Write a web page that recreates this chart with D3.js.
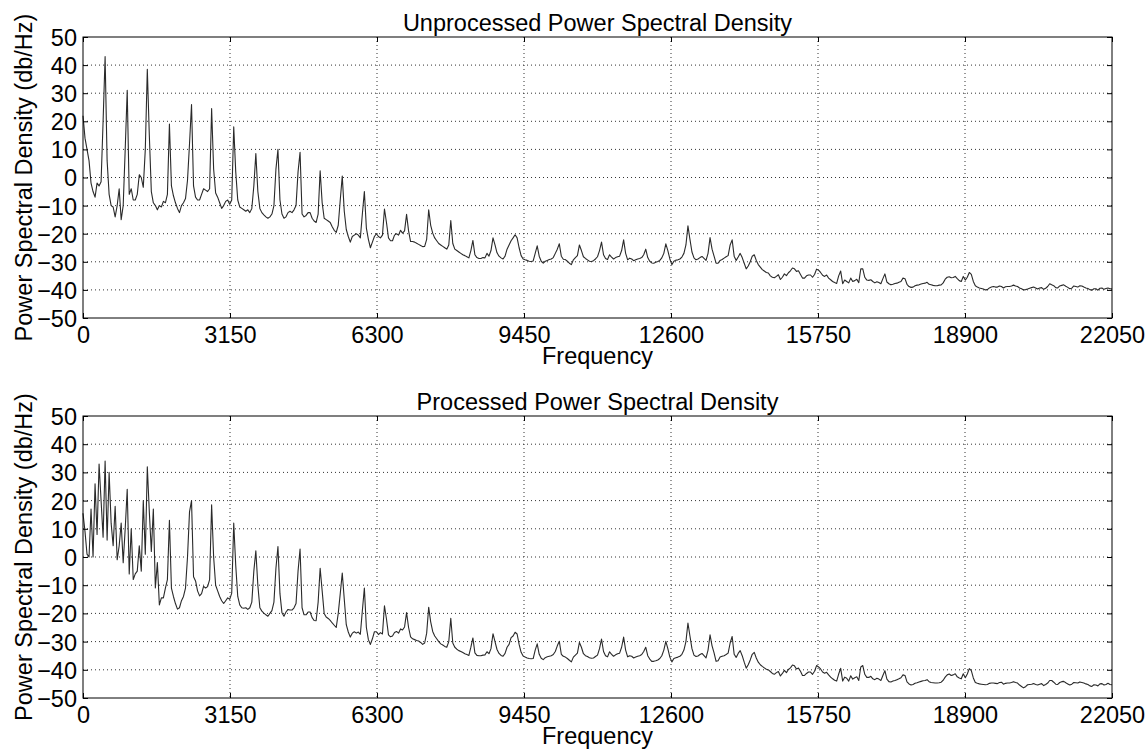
<!DOCTYPE html>
<html lang="en">
<head>
<meta charset="UTF-8">
<title>Power Spectral Density</title>
<script src="https://d3js.org/d3.v7.min.js"></script>
<style>
    body {
        margin: 0;
        background: #fff;
    }
    svg text {
        font-family: "Liberation Sans", Arial, sans-serif;
        fill: #000;
    }
    .grid line {
        stroke: #333;
        stroke-width: 1;
        stroke-dasharray: 1,3;
    }
    .trace {
        fill: none;
        stroke: #2a2a2a;
        stroke-width: 1.1;
        stroke-linejoin: round;
    }
</style>
</head>
<body>
<svg id="chart" width="1147" height="750"></svg>
<script>
// spectrum: 513 bins from 0 to Nyquist
const nyquist = 22050;
const binHz = nyquist / 512;

const freqTicks = [0, 3150, 6300, 9450, 12600, 15750, 18900, 22050];
const dbTicks = [-50, -40, -30, -20, -10, 0, 10, 20, 30, 40, 50];

const unprocessedDb = [
    22, 14, 10, 6, -2, -5, -7, -2, -3, -1.5, 20, 43, 6, -6, -10, -10.5,
    -14, -10, -4, -15, -10, 10, 31, -6, -4, -8, -8, -6, 1, 0, -3.5, 10,
    38.5, 15, -5, -9, -10, -11.5, -10, -10.5, -8.5, -9, -6, 19, -3, -6.5, -9, -11,
    -12.5, -10, -9, -7.5, -1, 12, 26, -3, -7, -8, -8, -6, -4, -4.5, -5, -4,
    24.5, 3, -5.5, -7, -9, -11, -10, -8.5, -8, -9.5, -8, 18, 2, -8, -10.5, -11,
    -11.5, -12, -11.5, -12.5, -11, -3, 8.5, -5, -11, -12.5, -13.3, -14, -14.5, -14, -13, -10,
    3, 10, -8, -13, -14.5, -14, -12.5, -12, -12.5, -11.5, -10, 2, 9, -13, -14, -13.5,
    -12.5, -12.5, -14.5, -15.5, -16, -13, 2.4, -9, -14.5, -15, -15.5, -16, -17.5, -18.8, -19.5, -17,
    -8, 0.5, -12, -18.5, -21, -23, -21, -20.5, -20, -20.5, -21.5, -13, -5, -18, -22, -25,
    -23, -21, -20, -21, -21.5, -20.5, -11.2, -16, -21.5, -22.5, -22.5, -20.5, -20, -20.5, -18.8, -19.8,
    -19, -13.1, -19, -22.8, -22.8, -23, -23.4, -23.8, -24.2, -24.6, -24.5, -22, -11.5, -17, -19.8, -21.5,
    -22.5, -23.5, -24, -24.5, -25, -25.5, -24, -15.3, -23.5, -25.5, -26, -26.5, -27, -27.5, -27.8, -28.2,
    -28.6, -26, -22.4, -27.5, -28.5, -28.8, -28.8, -28.5, -28.6, -27, -28, -26, -21.5, -24, -26.8, -28,
    -28.6, -29, -28, -25.5, -24, -22.5, -21.5, -20.4, -21.5, -25, -27.8, -29, -29.3, -29.5, -29.8, -29.9,
    -29.7, -27, -24.3, -28, -29.8, -30.5, -29.8, -29.5, -29.2, -29, -28.5, -27, -25.5, -23.6, -28, -29.1,
    -29.2, -29.8, -30.5, -31, -29.3, -28.5, -27.8, -24, -26, -28.2, -28.8, -29.3, -29.8, -29.9, -29.6, -29,
    -28.2, -26, -23, -27.5, -28.8, -29.2, -27.5, -28.3, -29, -28.5, -28.2, -28, -26, -22.2, -27, -29.3,
    -28.7, -29, -29.6, -29.3, -29, -28.8, -28.5, -27.5, -25.5, -28.5, -29.8, -30.4, -30.5, -30.2, -29.9, -29.5,
    -28.6, -27, -23.6, -26, -29, -31, -29.8, -29.4, -29.3, -29, -28.3, -27, -24, -17.2, -22, -26.5,
    -28.6, -29.3, -29, -28.5, -28.1, -28.8, -29.5, -27, -21.4, -25.5, -28, -30.5, -30.5, -29.5, -29.2, -28.7,
    -28.2, -27.8, -24, -22.2, -28, -29.5, -28.3, -27, -28.5, -30.5, -32.5, -31.5, -30, -28, -27.5, -29.5,
    -31, -31.9, -32.8, -33.3, -33.8, -34, -35, -35.5, -35.7, -35.2, -34.6, -36.3, -35.5, -34.3, -34.9, -33.9,
    -33.2, -32.2, -32.5, -33.4, -33.2, -34.5, -35.8, -35.8, -35, -34.7, -34.7, -35.5, -34.5, -32.6, -33, -33.8,
    -34.8, -35.2, -34.7, -35.8, -36.4, -37, -37.4, -37.7, -35, -33.3, -37.8, -36.5, -37, -37.5, -35.8, -37,
    -36.7, -36.2, -37.4, -32.5, -32.5, -35.5, -36.5, -36.6, -36.4, -37, -37.5, -37.1, -37.4, -37.8, -36, -34.3,
    -37.2, -37.8, -38.2, -38, -37.7, -37.6, -37.3, -37, -35.8, -36, -38, -38.8, -39.1, -39, -38.5, -38.3,
    -38.2, -37.9, -37.7, -37.6, -37.3, -38, -38.2, -38.4, -38.5, -38.5, -38.3, -38.2, -37.5, -36.2, -35.5, -35.3,
    -35.7, -35.6, -35.2, -36, -36.7, -37, -35.2, -36.5, -35.5, -33.8, -34.5, -37, -38.5, -39, -39.3, -39.5,
    -39.7, -40, -39.9, -39.3, -39, -38.8, -39, -39, -38.6, -38.8, -39.3, -38.9, -38.8, -38.8, -38.6, -38.3,
    -38.6, -38.8, -39.3, -39.6, -40, -39.9, -39.7, -39.4, -39.2, -39, -39.3, -39.7, -39.3, -39.2, -39.8, -39.4,
    -38.8, -37.8, -38.2, -38.5, -39.2, -39.3, -38.6, -38.4, -38.2, -38.7, -39.1, -39.6, -39.4, -38.6, -38.8, -39,
    -38.5, -38.6, -39, -39.3, -39.5, -39.9, -40.1, -39.6, -39.6, -40.1, -39.4, -39.3, -39.8, -39.5, -39.3, -39.6,
    -39.6
];

const processedDb = [
    15.5, 9, 1, 0, 17, 0, 26, 8, 33, 20, 7, 34, 6, 30, 12, 4,
    18, -1, 4, 12, -2, 10, 24, -6, 10, -8, -6, -5, 4, -5, 20, 1,
    32, 16, 2, 17, -11, -2, -17, -14.5, -14.5, -11, -8, 13, -11, -14, -16.5, -18.5,
    -18, -15.5, -14, -11, 0, 16, 20, -7, -8.5, -12, -13.8, -13, -10.4, -11, -10.5, -8,
    18.5, 0, -10, -12, -14, -15.5, -16.5, -15.5, -14.5, -15, -12.8, 12, -3, -14, -17, -18,
    -18.2, -18, -18.6, -18, -16, -5, 2.2, -10, -18, -19.2, -19.9, -20.5, -21, -20, -19, -16,
    -4, 3.7, -13, -19.8, -21, -19.5, -18.6, -18.8, -18.8, -18, -16.5, -5, 2.8, -18, -20.5, -20.5,
    -19.5, -19.5, -21.5, -22.5, -22.6, -16, -4, -12, -20, -21.3, -21.8, -22.5, -23.4, -24.2, -25, -20,
    -13, -5.7, -15, -24, -26.6, -28.4, -27, -26.5, -27, -26.6, -27.4, -19, -11, -25, -29.3, -31,
    -29, -26.5, -26.5, -27.5, -26.8, -27.3, -17.3, -22, -27.6, -28.3, -28, -26.8, -26.4, -27, -25.5, -25.9,
    -24.8, -19.7, -25, -28.3, -29, -29.3, -29.6, -29.8, -30.3, -31, -30.5, -27, -17.8, -23, -26.4, -28,
    -29, -30, -30.8, -31.2, -31.7, -32, -30, -21.7, -30.5, -32, -32.7, -33.2, -33.5, -33.9, -34.3, -34.6,
    -34.9, -32, -28.7, -34, -34.9, -35, -35, -34.8, -34.7, -33.6, -34.3, -32.5, -27.2, -30, -32.8, -34.2,
    -34.9, -35.2, -34.2, -32, -31, -28.6, -28, -26.7, -27.3, -31, -33.8, -35.1, -35.5, -35.8, -36, -36.1,
    -36, -33, -30.8, -34.5, -35.9, -36.4, -35.7, -35.4, -35.2, -35, -34.6, -33.5, -31.5, -29.9, -34.5, -35.2,
    -35.5, -36, -36.6, -37.2, -35.5, -34.8, -34.1, -30.3, -32, -34.3, -35, -35.3, -35.7, -35.9, -35.8, -35.3,
    -34.8, -32.5, -29.1, -33.5, -35, -35.4, -33.6, -34.5, -35.2, -34.7, -34.3, -34.1, -32, -28.4, -33, -35.4,
    -35, -35.2, -35.8, -35.5, -35.2, -35, -34.6, -33.5, -32, -35, -36.2, -37, -37, -36.8, -36.5, -36,
    -35, -33, -29.9, -32.5, -35.5, -37.2, -36, -35.7, -35.5, -35.2, -34.5, -33, -30, -23.4, -28, -32.5,
    -34.8, -35.3, -35.1, -34.6, -34.2, -35, -35.8, -33, -27.6, -31.5, -34, -37, -36.8, -35.5, -35.2, -35,
    -34.6, -34.1, -30.5, -28.2, -34.5, -35.6, -34.2, -33.2, -35, -37.3, -39.4, -38.2, -36.5, -34.5, -33.8, -35.8,
    -37.3, -38.2, -38.8, -39.3, -39.8, -40, -40.6, -41.3, -41.6, -41, -40.6, -42.2, -41.3, -40.2, -41, -39.9,
    -39.3, -38.3, -38.6, -39.7, -39.4, -40.5, -42, -42, -41.3, -40.8, -40.8, -41.6, -40.5, -38.5, -39, -39.7,
    -40.8, -41.2, -40.9, -41.8, -42.6, -43.2, -43.7, -44, -41.5, -39.5, -44, -42.6, -43, -44, -42.1, -43.3,
    -42.8, -42.5, -43.8, -39, -38.5, -41.6, -42.7, -42.7, -42.3, -43.2, -43.5, -43, -43.3, -43.8, -42, -40.3,
    -43.3, -44.2, -44.3, -44, -43.8, -43.5, -43.2, -42.8, -41.8, -42, -44.3, -45, -45.4, -45.2, -44.8, -44.6,
    -44.3, -44.1, -43.9, -43.8, -43.5, -44.2, -44.5, -44.6, -44.7, -44.7, -44.6, -44.4, -43.7, -42.6, -41.8, -41.5,
    -42, -41.8, -41.4, -42.5, -42.9, -43.2, -41.4, -42.8, -41.5, -39.6, -40.3, -42.9, -44.5, -44.8, -45, -45.1,
    -45.2, -45.3, -45.2, -44.8, -44.7, -44.7, -44.8, -44.9, -44.5, -44.4, -45.1, -44.8, -44.7, -44.7, -44.5, -44.2,
    -44.5, -44.7, -45.4, -45.9, -46.4, -46, -45.3, -45.2, -45.1, -44.9, -45.2, -45.4, -45.1, -44.9, -45.6, -45.2,
    -44.7, -43.8, -43.8, -44.4, -45.1, -45.2, -44.5, -44.2, -44.1, -44.6, -45, -45.4, -45.1, -44.5, -44.6, -44.7,
    -44.3, -44.5, -44.7, -45, -45.2, -45.7, -45.9, -45.3, -45.4, -45.7, -45, -44.9, -45.4, -45.2, -44.8, -45.2,
    -45.3
];

const panels = [
    { title: "Unprocessed Power Spectral Density", values: unprocessedDb, top: 37, bottom: 318 },
    { title: "Processed Power Spectral Density", values: processedDb, top: 416, bottom: 698 }
];

const svg = d3.select("#chart");
const left = 83, right = 1112;
const fontSize = 23.5;
const tickLen = 5;

const x = d3.scaleLinear().domain([0, nyquist]).range([left, right]);

panels.forEach(p => {
    const y = d3.scaleLinear().domain([-50, 50]).range([p.bottom, p.top]);
    const g = svg.append("g");

    // dotted grid
    const grid = g.append("g").attr("class", "grid");
    grid.selectAll("line.v")
        .data(freqTicks.slice(1, -1))
        .enter().append("line")
        .attr("x1", d => x(d)).attr("x2", d => x(d))
        .attr("y1", p.top).attr("y2", p.bottom);
    grid.selectAll("line.h")
        .data(dbTicks.slice(1, -1))
        .enter().append("line")
        .attr("x1", left).attr("x2", right)
        .attr("y1", d => y(d)).attr("y2", d => y(d));

    // spectrum trace
    const line = d3.line()
        .x((d, i) => x(i * binHz))
        .y(d => y(d));
    g.append("path")
        .datum(p.values)
        .attr("class", "trace")
        .attr("d", line);

    // axes, ticks pointing inward on all four sides
    const bottomAxis = g.append("g")
        .attr("transform", `translate(0,${p.bottom})`)
        .call(d3.axisBottom(x).tickValues(freqTicks).tickSize(-tickLen).tickPadding(8).tickFormat(d3.format("d")));
    const leftAxis = g.append("g")
        .attr("transform", `translate(${left},0)`)
        .call(d3.axisLeft(y).tickValues(dbTicks).tickSize(-tickLen).tickPadding(6).tickFormat(d3.format("d")));
    g.append("g")
        .attr("transform", `translate(0,${p.top})`)
        .call(d3.axisTop(x).tickValues(freqTicks).tickSize(-tickLen).tickFormat(""));
    g.append("g")
        .attr("transform", `translate(${right},0)`)
        .call(d3.axisRight(y).tickValues(dbTicks).tickSize(-tickLen).tickFormat(""));

    g.selectAll(".domain").remove();
    g.selectAll(".tick line").attr("stroke", "#000");
    g.selectAll(".tick text")
        .style("font-size", fontSize + "px")
        .style("font-family", "'Liberation Sans', Arial, sans-serif");
    leftAxis.selectAll(".tick text").attr("dy", "0.36em");

    // box
    g.append("rect")
        .attr("x", left).attr("y", p.top)
        .attr("width", right - left).attr("height", p.bottom - p.top)
        .attr("fill", "none").attr("stroke", "#000").attr("stroke-width", 1);

    // title and labels
    g.append("text")
        .attr("x", (left + right) / 2).attr("y", p.top - 6)
        .attr("text-anchor", "middle")
        .style("font-size", fontSize + "px")
        .text(p.title);

    g.append("text")
        .attr("x", (left + right) / 2).attr("y", p.bottom + 46)
        .attr("text-anchor", "middle")
        .style("font-size", fontSize + "px")
        .text("Frequency");

    g.append("text")
        .attr("transform", `translate(32,${(p.top + p.bottom) / 2}) rotate(-90)`)
        .attr("text-anchor", "middle")
        .style("font-size", fontSize + "px")
        .text("Power Spectral Density (db/Hz)");
});
</script>
</body>
</html>
